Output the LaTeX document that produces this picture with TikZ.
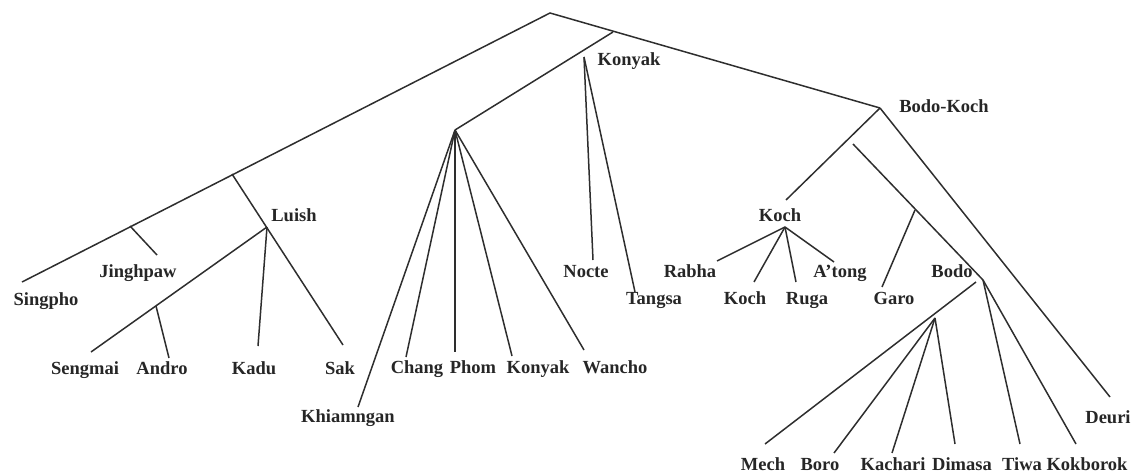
\documentclass[tikz,border=0pt]{standalone}
\usepackage{fontspec}
\setmainfont{Liberation Serif}
\begin{document}
\begin{tikzpicture}[x=1pt,y=-1pt,
  br/.style={draw=black!82,line width=1.5pt},
  lab/.style={font=\fontsize{18.5}{20}\selectfont\bfseries,text=black!85,inner sep=0pt,text height=12.5pt,text depth=0pt,anchor=center}]
\useasboundingbox (0,0) rectangle (1139,473);
% tree points
\coordinate (root) at (550,13);
\coordinate (singE) at (22,282);
\coordinate (jb) at (130,226);
\coordinate (jE) at (157,255);
\coordinate (lb) at (232,174);
\coordinate (sakE) at (343,345);
\coordinate (lu) at (267,227);
\coordinate (sengE) at (91,352);
\coordinate (ab) at (156,306);
\coordinate (androE) at (169,358);
\coordinate (kaduE) at (258,346);
\coordinate (bk) at (880,108);
\coordinate (kb) at (613,32);
\coordinate (cg) at (455,130);
\coordinate (kp) at (584,57);
\coordinate (nocteE) at (593,260);
\coordinate (tangsaE) at (635,292);
\coordinate (khiaE) at (358,407);
\coordinate (changE) at (406,357);
\coordinate (phomE) at (455,352);
\coordinate (konyE) at (512,356);
\coordinate (wanE) at (584,350);
\coordinate (kochT) at (786,200);
\coordinate (deuriE) at (1110,397);
\coordinate (bs) at (853,144);
\coordinate (bodo) at (983,280);
\coordinate (gb) at (915,210);
\coordinate (garoE) at (882,287);
\coordinate (kc) at (785,227);
\coordinate (rabhaE) at (717,261);
\coordinate (kochE) at (754,282);
\coordinate (rugaE) at (796,282);
\coordinate (atongE) at (834,262);
\coordinate (ms) at (976,282);
\coordinate (mechE) at (765,444);
\coordinate (mg) at (935,318);
\coordinate (boroE) at (834,453);
\coordinate (kachE) at (892,453);
\coordinate (dimE) at (955,444);
\coordinate (tiwaE) at (1020,444);
\coordinate (kokE) at (1076,444);
% branches
\draw[br] (singE) -- (root) -- (bk);
\draw[br] (jb) -- (jE);
\draw[br] (lb) -- (sakE);
\draw[br] (lu) -- (sengE);
\draw[br] (ab) -- (androE);
\draw[br] (lu) -- (kaduE);
\draw[br] (kb) -- (cg);
\foreach \e in {khiaE,changE,phomE,konyE,wanE} \draw[br] (cg) -- (\e);
\draw[br] (kp) -- (nocteE);
\draw[br] (kp) -- (tangsaE);
\draw[br] (bk) -- (kochT);
\draw[br] (bk) -- (deuriE);
\draw[br] (bs) -- (bodo);
\draw[br] (gb) -- (garoE);
\foreach \e in {rabhaE,kochE,rugaE,atongE} \draw[br] (kc) -- (\e);
\draw[br] (ms) -- (mechE);
\foreach \e in {boroE,kachE,dimE} \draw[br] (mg) -- (\e);
\draw[br] (bodo) -- (tiwaE);
\draw[br] (bodo) -- (kokE);
% labels
\node[lab] (lSingpho) at (46,299) {Singpho};
\node[lab] (lJinghpaw) at (138,271) {Jinghpaw};
\node[lab] (lLuish) at (294,215) {Luish};
\node[lab] (lSengmai) at (85,368) {Sengmai};
\node[lab] (lAndro) at (162,368) {Andro};
\node[lab] (lKadu) at (254,368) {Kadu};
\node[lab] (lSak) at (340,368) {Sak};
\node[lab] (lKhiamngan) at (348,416) {Khiamngan};
\node[lab] (lChang) at (417,367) {Chang};
\node[lab] (lPhom) at (473,367) {Phom};
\node[lab] (lKonyak) at (538,367) {Konyak};
\node[lab] (lWancho) at (615,367) {Wancho};
\node[lab] (lKonyakT) at (629,59) {Konyak};
\node[lab] (lNocte) at (586,271) {Nocte};
\node[lab] (lTangsa) at (654,298) {Tangsa};
\node[lab] (lBodoKoch) at (944,106) {Bodo-Koch};
\node[lab] (lKochT) at (780,215) {Koch};
\node[lab] (lRabha) at (690,271) {Rabha};
\node[lab] (lAtong) at (840,271) {A’tong};
\node[lab] (lKoch) at (745,298) {Koch};
\node[lab] (lRuga) at (807,298) {Ruga};
\node[lab] (lGaro) at (894,298) {Garo};
\node[lab] (lBodo) at (952,271) {Bodo};
\node[lab] (lMech) at (763,464) {Mech};
\node[lab] (lBoro) at (820,464) {Boro};
\node[lab] (lKachari) at (893,464) {Kachari};
\node[lab] (lDimasa) at (962,464) {Dimasa};
\node[lab] (lTiwa) at (1022,464) {Tiwa};
\node[lab] (lKokborok) at (1087,464) {Kokborok};
\node[lab] (lDeuri) at (1108,417) {Deuri};
\end{tikzpicture}
\end{document}
